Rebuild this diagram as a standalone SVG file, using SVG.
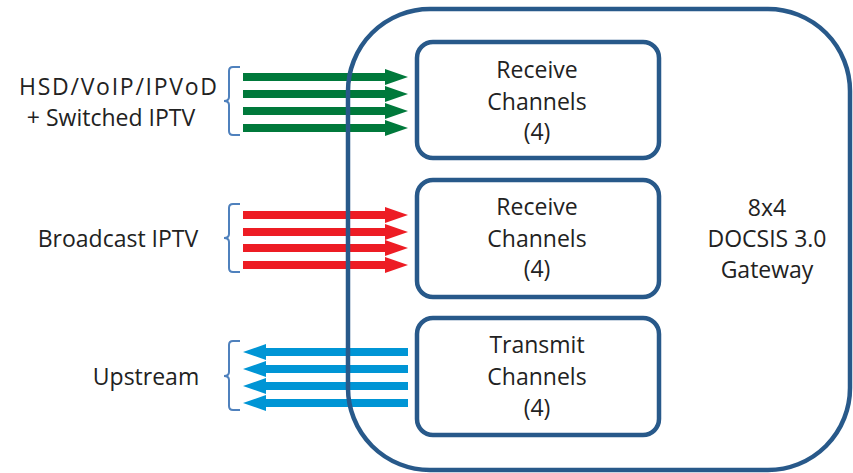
<svg xmlns="http://www.w3.org/2000/svg" width="853" height="473" viewBox="0 0 853 473">
<defs>
<style>
.box{fill:none;stroke:#28598a;stroke-width:4.5}
.t{font-family:"Open Sans","Liberation Sans",sans-serif;font-size:23px;fill:#222;text-anchor:middle}
.br{fill:none;stroke:#4f81bd;stroke-width:2}
.g{fill:#00793b}.r{fill:#ed1c24}.b{fill:#0095d5}
</style>
<path id="ra" d="M0,-4 H142 V-8 L165,0 L142,8 V4 H0 Z"/>
<path id="la" d="M0,0 L23,-8 V-4 H165 V4 H23 V8 Z"/>
</defs>
<g id="connectors">
<use href="#ra" class="g" x="243" y="77"/>
<use href="#ra" class="g" x="243" y="94"/>
<use href="#ra" class="g" x="243" y="111"/>
<use href="#ra" class="g" x="243" y="128"/>
<use href="#ra" class="r" x="243" y="215"/>
<use href="#ra" class="r" x="243" y="232"/>
<use href="#ra" class="r" x="243" y="248"/>
<use href="#ra" class="r" x="243" y="265"/>
<use href="#la" class="b" x="243" y="352"/>
<use href="#la" class="b" x="243" y="369"/>
<use href="#la" class="b" x="243" y="386"/>
<use href="#la" class="b" x="243" y="403"/>
</g>
<g id="gateway">
<rect class="box" x="348" y="9" width="502" height="461" rx="82"/>
<text class="t" x="767" y="216">8x4</text>
<text class="t" x="767" y="247">DOCSIS 3.0</text>
<text class="t" x="767" y="278">Gateway</text>
</g>
<g id="rx1">
<rect class="box" x="417" y="42" width="242" height="116" rx="16"/>
<text class="t" x="537" y="78">Receive</text>
<text class="t" x="537" y="110">Channels</text>
<text class="t" x="537" y="140">(4)</text>
</g>
<g id="rx2">
<rect class="box" x="417" y="180" width="242" height="117" rx="16"/>
<text class="t" x="537" y="215">Receive</text>
<text class="t" x="537" y="247">Channels</text>
<text class="t" x="537" y="277">(4)</text>
</g>
<g id="tx">
<rect class="box" x="417" y="318" width="242" height="117" rx="16"/>
<text class="t" x="537" y="353">Transmit</text>
<text class="t" x="537" y="385">Channels</text>
<text class="t" x="537" y="416">(4)</text>
</g>
<g id="hsd">
<path class="br" d="M240,67 H233 Q229,67 229,71 V97 Q229,101 224,101 Q229,101 229,105 V131 Q229,135 233,135 H240"/>
<text class="t" x="118" y="95" textLength="198" lengthAdjust="spacing">HSD/VoIP/IPVoD</text>
<text class="t" x="111" y="126">+ Switched IPTV</text>
</g>
<g id="bcast">
<path class="br" d="M240,204 H233 Q229,204 229,208 V234 Q229,238 224,238 Q229,238 229,242 V268 Q229,272 233,272 H240"/>
<text class="t" x="118" y="247">Broadcast IPTV</text>
</g>
<g id="up">
<path class="br" d="M240,341 H233 Q229,341 229,345 V372 Q229,376 224,376 Q229,376 229,380 V406 Q229,410 233,410 H240"/>
<text class="t" x="146" y="385">Upstream</text>
</g>
</svg>
